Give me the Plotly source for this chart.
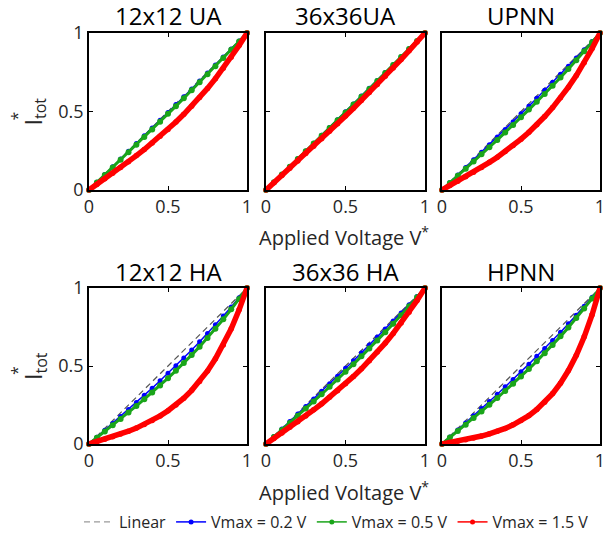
import plotly.graph_objects as go

# ---------------- data ----------------
v_star = [0, 0.05, 0.1, 0.15, 0.2, 0.25, 0.3, 0.35, 0.4, 0.45, 0.5,
          0.55, 0.6, 0.65, 0.7, 0.75, 0.8, 0.85, 0.9, 0.95, 1]

panel_titles = ["12x12 UA", "36x36UA", "UPNN", "12x12 HA", "36x36 HA", "HPNN"]
series_names = ["Linear", "Vmax = 0.2 V", "Vmax = 0.5 V", "Vmax = 1.5 V"]
tick_vals = [0, 0.5, 1]
tick_text = ["0", "0.5", "1"]

linear = [0, 0.05, 0.1, 0.15, 0.2, 0.25, 0.3, 0.35, 0.4, 0.45, 0.5,
          0.55, 0.6, 0.65, 0.7, 0.75, 0.8, 0.85, 0.9, 0.95, 1]

# 12x12 UA
ua12_v02 = [0, 0.049, 0.099, 0.148, 0.197, 0.247, 0.296, 0.345, 0.395, 0.445, 0.494,
            0.544, 0.594, 0.644, 0.695, 0.745, 0.796, 0.847, 0.898, 0.949, 1]
ua12_v05 = [0, 0.048, 0.096, 0.144, 0.192, 0.241, 0.289, 0.338, 0.386, 0.435, 0.485,
            0.534, 0.584, 0.635, 0.686, 0.737, 0.788, 0.840, 0.893, 0.946, 1]
ua12_v15 = [0, 0.035, 0.071, 0.107, 0.143, 0.180, 0.219, 0.258, 0.299, 0.342, 0.386,
            0.433, 0.482, 0.534, 0.589, 0.647, 0.709, 0.775, 0.845, 0.920, 1]
# 36x36UA
ua36_v02 = [0, 0.050, 0.099, 0.149, 0.199, 0.248, 0.298, 0.348, 0.398, 0.448, 0.498,
            0.548, 0.598, 0.648, 0.698, 0.748, 0.798, 0.848, 0.899, 0.949, 1]
ua36_v05 = [0, 0.049, 0.099, 0.148, 0.197, 0.247, 0.296, 0.345, 0.395, 0.445, 0.494,
            0.544, 0.594, 0.644, 0.695, 0.745, 0.796, 0.847, 0.898, 0.949, 1]
ua36_v15 = [0, 0.046, 0.092, 0.139, 0.185, 0.232, 0.279, 0.326, 0.374, 0.422, 0.471,
            0.520, 0.570, 0.621, 0.672, 0.724, 0.777, 0.832, 0.887, 0.943, 1]
# UPNN
upnn_v02 = [0, 0.048, 0.096, 0.144, 0.192, 0.241, 0.289, 0.338, 0.386, 0.435, 0.485,
            0.534, 0.584, 0.635, 0.686, 0.737, 0.788, 0.840, 0.893, 0.946, 1]
upnn_v05 = [0, 0.045, 0.090, 0.135, 0.181, 0.227, 0.273, 0.319, 0.367, 0.414, 0.463,
            0.512, 0.562, 0.612, 0.664, 0.717, 0.771, 0.826, 0.883, 0.941, 1]
upnn_v15 = [0, 0.028, 0.056, 0.084, 0.113, 0.144, 0.176, 0.209, 0.245, 0.283, 0.324,
            0.368, 0.416, 0.468, 0.525, 0.587, 0.655, 0.729, 0.811, 0.901, 1]
# 12x12 HA
ha12_v02 = [0, 0.044, 0.088, 0.132, 0.176, 0.221, 0.266, 0.312, 0.358, 0.405, 0.453,
            0.502, 0.552, 0.603, 0.655, 0.709, 0.764, 0.820, 0.878, 0.938, 1]
ha12_v05 = [0, 0.040, 0.080, 0.120, 0.161, 0.202, 0.244, 0.287, 0.330, 0.375, 0.422,
            0.470, 0.519, 0.571, 0.624, 0.680, 0.738, 0.799, 0.863, 0.930, 1]
ha12_v15 = [0, 0.015, 0.030, 0.046, 0.064, 0.082, 0.102, 0.125, 0.151, 0.180, 0.213,
            0.250, 0.294, 0.344, 0.401, 0.468, 0.546, 0.635, 0.739, 0.860, 1]
# 36x36 HA
ha36_v02 = [0, 0.048, 0.096, 0.144, 0.192, 0.241, 0.289, 0.338, 0.386, 0.435, 0.485,
            0.534, 0.584, 0.635, 0.686, 0.737, 0.788, 0.840, 0.893, 0.946, 1]
ha36_v05 = [0, 0.045, 0.090, 0.135, 0.181, 0.227, 0.273, 0.319, 0.367, 0.414, 0.463,
            0.512, 0.562, 0.612, 0.664, 0.717, 0.771, 0.826, 0.883, 0.941, 1]
ha36_v15 = [0, 0.035, 0.071, 0.107, 0.143, 0.180, 0.219, 0.258, 0.299, 0.342, 0.386,
            0.433, 0.482, 0.534, 0.589, 0.647, 0.709, 0.775, 0.845, 0.920, 1]
# HPNN
hpnn_v02 = [0, 0.045, 0.090, 0.135, 0.181, 0.227, 0.273, 0.319, 0.367, 0.414, 0.463,
            0.512, 0.562, 0.612, 0.664, 0.717, 0.771, 0.826, 0.883, 0.941, 1]
hpnn_v05 = [0, 0.041, 0.083, 0.124, 0.166, 0.209, 0.252, 0.295, 0.340, 0.386, 0.433,
            0.481, 0.531, 0.582, 0.635, 0.690, 0.747, 0.807, 0.868, 0.933, 1]
hpnn_v15 = [0, 0.009, 0.018, 0.028, 0.039, 0.051, 0.065, 0.081, 0.100, 0.123, 0.150,
            0.182, 0.221, 0.267, 0.323, 0.390, 0.471, 0.569, 0.687, 0.829, 1]

panel_series = [
    (ua12_v02, ua12_v05, ua12_v15),
    (ua36_v02, ua36_v05, ua36_v15),
    (upnn_v02, upnn_v05, upnn_v15),
    (ha12_v02, ha12_v05, ha12_v15),
    (ha36_v02, ha36_v05, ha36_v15),
    (hpnn_v02, hpnn_v05, hpnn_v15),
]

# ---------------- layout geometry ----------------
W, H = 611, 537
col_px = [(89, 247), (266, 425), (442, 600)]
row_px = [(33, 190), (288, 444)]

FONT = "Open Sans, Arial, sans-serif"
TXT = "#262626"
C_LIN, C_BLUE, C_GREEN, C_RED = "#555555", "#0000ff", "#1aa51a", "#ff0000"

fig = go.Figure()
layout = dict(
    width=W, height=H,
    margin=dict(l=0, r=0, t=0, b=0, autoexpand=False),
    paper_bgcolor="white", plot_bgcolor="white",
    font=dict(family=FONT, color=TXT),
    showlegend=True,
)

annotations = []
for i in range(6):
    r, c = divmod(i, 3)
    ax_id = "" if i == 0 else str(i + 1)
    xa, ya = "x" + ax_id, "y" + ax_id
    x0, x1 = col_px[c]
    y0, y1 = row_px[r]
    xdom = [x0 / W, x1 / W]
    ydom = [1 - y1 / H, 1 - y0 / H]
    common = dict(range=[0, 1], tickvals=tick_vals, ticktext=tick_text,
                  ticks="inside", ticklen=4, tickwidth=1.2, tickcolor="black",
                  showline=True, linecolor="black", linewidth=1.6, mirror="ticks",
                  showgrid=False, zeroline=False,
                  tickfont=dict(size=18, color=TXT, family=FONT))
    layout["xaxis" + ax_id] = dict(domain=xdom, anchor=ya, **common)
    layout["yaxis" + ax_id] = dict(domain=ydom, anchor=xa,
                                   showticklabels=(c == 0), **common)

    blue, green, red = panel_series[i]
    fig.add_trace(go.Scatter(x=v_star, y=linear, xaxis=xa, yaxis=ya, mode="lines",
                             showlegend=False, hoverinfo="skip",
                             line=dict(color=C_LIN, width=1.2, dash="6px,4px")))
    fig.add_trace(go.Scatter(x=v_star, y=blue, xaxis=xa, yaxis=ya, mode="lines+markers",
                             showlegend=False,
                             line=dict(color=C_BLUE, width=1.5),
                             marker=dict(color=C_BLUE, size=5), cliponaxis=False))
    fig.add_trace(go.Scatter(x=v_star, y=green, xaxis=xa, yaxis=ya, mode="lines+markers",
                             showlegend=False,
                             line=dict(color=C_GREEN, width=3),
                             marker=dict(color=C_GREEN, size=6), cliponaxis=False))
    fig.add_trace(go.Scatter(x=v_star, y=red, xaxis=xa, yaxis=ya, mode="lines+markers",
                             showlegend=False,
                             line=dict(color=C_RED, width=5.5),
                             marker=dict(color=C_RED, size=5.5), cliponaxis=False))

    # panel title
    annotations.append(dict(text=panel_titles[i], xref="paper", yref="paper",
                            x=(x0 + x1) / 2 / W, y=1 - (y0 - 17) / H,
                            xanchor="center", yanchor="middle", showarrow=False,
                            font=dict(size=24, color="black", family=FONT)))

# legend entries (thin symbols as in the reference legend)
legend_styles = [
    dict(mode="lines", line=dict(color="#9a9a9a", width=1.2, dash="6px,4px")),
    dict(mode="lines+markers", line=dict(color=C_BLUE, width=1.5), marker=dict(color=C_BLUE, size=5)),
    dict(mode="lines+markers", line=dict(color=C_GREEN, width=1.5), marker=dict(color=C_GREEN, size=5)),
    dict(mode="lines+markers", line=dict(color=C_RED, width=1.5), marker=dict(color=C_RED, size=5)),
]
for name, st in zip(series_names, legend_styles):
    fig.add_trace(go.Scatter(x=[None], y=[None], name=name, showlegend=True, **st))

for r, (y0, y1) in enumerate(row_px):
    # x-axis label under the middle panel
    annotations.append(dict(text="Applied Voltage V<sup>*</sup>", xref="paper", yref="paper",
                            x=344 / W, y=1 - (y1 + 47) / H,
                            xanchor="center", yanchor="middle", showarrow=False,
                            font=dict(size=20, color=TXT, family=FONT)))
    # y-axis label
    annotations.append(dict(text="I<sub>tot</sub>", xref="paper", yref="paper",
                            x=34 / W, y=1 - ((y0 + y1) / 2) / H, textangle=-90,
                            xanchor="center", yanchor="middle", showarrow=False,
                            font=dict(size=23, color=TXT, family=FONT)))
    annotations.append(dict(text="*", xref="paper", yref="paper",
                            x=17 / W, y=1 - ((y0 + y1) / 2 + 5) / H, textangle=-90,
                            xanchor="center", yanchor="middle", showarrow=False,
                            font=dict(size=16, color=TXT, family=FONT)))

layout["annotations"] = annotations
layout["legend"] = dict(orientation="h", x=79 / W, y=1 - 522 / H,
                        xanchor="left", yanchor="middle",
                        font=dict(size=16, color=TXT, family=FONT),
                        bgcolor="rgba(0,0,0,0)", itemwidth=30, tracegroupgap=0)
fig.update_layout(**layout)
fig.write_html("out.html", config={"displayModeBar": False},
               post_script="document.body.style.margin='0';")
